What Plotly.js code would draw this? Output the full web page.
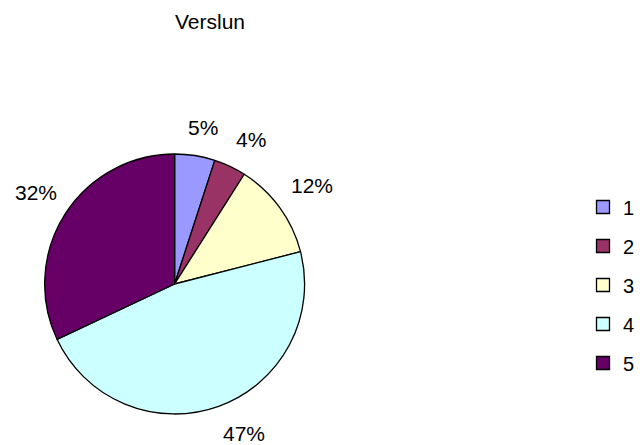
<!DOCTYPE html>
<html><head><meta charset="utf-8">
<script src="https://cdn.plot.ly/plotly-3.0.1.min.js"></script>
<style>html,body{margin:0;padding:0;background:#fff}#c{width:640px;height:445px}</style>
</head><body><div id="c"></div>
<script>
const categories = ["1", "2", "3", "4", "5"];
const values = [5, 4, 12, 47, 32];
const colors = ["#9999FF", "#993366", "#FFFFCC", "#CCFFFF", "#660066"];
const chartTitle = "Verslun";

const W = 640, H = 445;
const cx = 176, cy = 284, R = 131;
const FONT = "Liberation Sans, Arial, sans-serif";

const pie = {
  type: "pie", labels: categories, values: values, sort: false,
  direction: "clockwise", rotation: 0,
  marker: {colors: colors, line: {color: "#000", width: 1.3}},
  textinfo: "none", showlegend: false, hoverinfo: "none",
  domain: {x: [(cx - R) / W, (cx + R) / W], y: [(H - cy - R) / H, (H - cy + R) / H]}
};
const legendTraces = categories.map((c, i) => ({
  type: "scatter", mode: "markers", x: [null], y: [null], name: c,
  legendgroup: "g" + i,
  marker: {symbol: "square", size: 13, color: colors[i], line: {color: "#000", width: 1.3}}
}));

// percentage labels placed outside each slice at its mid-angle
const total = values.reduce((a, b) => a + b, 0);
let cum = 0;
const annotations = values.map((v) => {
  const mid = (cum + v / 2) / total * 2 * Math.PI;
  cum += v;
  const s = Math.sin(mid), c = Math.cos(mid);
  const rr = R + 14;
  const px = cx + rr * s, py = cy - rr * c;
  return {
    xref: "paper", yref: "paper", x: px / W, y: 1 - py / H,
    xanchor: s > 0.25 ? "left" : (s < -0.25 ? "right" : "center"),
    yanchor: c > 0.25 ? "bottom" : (c < -0.25 ? "top" : "middle"),
    xshift: s > 0.25 ? -2 : 6,
    text: Math.round(v / total * 100) + "%", showarrow: false,
    font: {family: FONT, size: 21, color: "#000"}
  };
});

Plotly.newPlot("c", [pie, ...legendTraces], {
  width: W, height: H,
  margin: {l: 0, r: 0, t: 0, b: 0},
  paper_bgcolor: "#fff", plot_bgcolor: "#fff",
  title: {text: chartTitle, x: 210 / W, xanchor: "center", y: 1 - 22 / H, yanchor: "middle",
          font: {family: FONT, size: 21, color: "#000"}},
  xaxis: {visible: false}, yaxis: {visible: false},
  annotations: annotations,
  showlegend: true,
  legend: {x: 588 / W, xanchor: "left", y: 1 - 285 / H, yanchor: "middle",
           font: {family: FONT, size: 20, color: "#000"},
           tracegroupgap: 10, itemwidth: 30, bgcolor: "rgba(0,0,0,0)"}
}, {staticPlot: true});
</script></body></html>
